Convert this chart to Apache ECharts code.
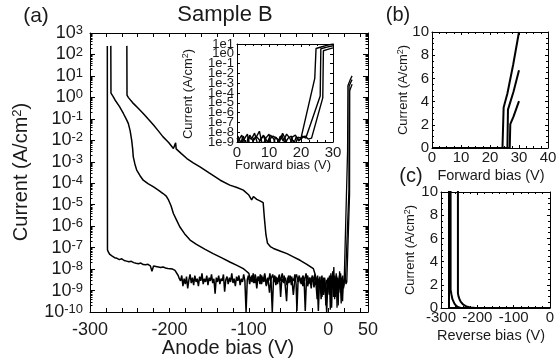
<!DOCTYPE html>
<html><head><meta charset="utf-8">
<script src="https://cdn.jsdelivr.net/npm/echarts@6.0.0/dist/echarts.min.js"></script>
<style>html,body{margin:0;padding:0;background:#fff;}#chart{width:557px;height:364px;}</style>
</head><body><div id="chart"></div>
<script>
// ---------- data: [bias (V), log10 of current density (A/cm^2)] ----------
const rev1 = [[-278.2,2.4],[-278.0,-7.1],[-277,-7.2],[-275,-7.32],[-272,-7.4],[-269,-7.47],[-266,-7.5],[-263,-7.56],[-260,-7.52],[-257,-7.6],[-254,-7.63],[-251,-7.66],[-248,-7.64],[-245,-7.7],[-242,-7.73],[-239,-7.75],[-236,-7.72],[-233,-7.79],[-230,-7.8],[-227,-7.78],[-224,-7.85],[-222,-8.1],[-220,-7.86],[-217,-7.88],[-214,-7.9],[-211,-7.93],[-208,-7.9],[-205,-7.95],[-202,-7.97],[-199,-7.98],[-196,-8.0],[-193,-8.06],[-191,-8.15],[-189,-8.3],[-187.5,-8.45],
[-186,-8.55],[-184.5,-8.3],[-183,-8.8],[-181.5,-8.45],[-180,-8.7],[-178.5,-8.35],[-177,-8.9],[-175.5,-8.5],[-174,-8.25],[-172.5,-8.65],[-171,-8.4],[-169.5,-8.75],[-168,-8.3],[-166.5,-8.6],[-165,-8.45],[-163.5,-8.8],[-162,-8.35],[-160.5,-8.55],[-159,-8.2],[-157.5,-8.7],[-156,-8.45],[-154.5,-8.6],[-153,-8.3],[-151.5,-8.75],[-150,-8.4],[-148.5,-8.55],[-147,-8.25],[-145.5,-8.65],[-144,-8.45],[-142.5,-9.15],[-141,-8.4],[-139.5,-8.6],[-138,-8.3],[-136.5,-8.7],[-135,-8.45],[-133.5,-8.55],[-132,-8.25],[-130.5,-9.05],[-129,-8.5],[-127.5,-8.35],[-126,-8.7],[-124.5,-8.4],[-123,-8.6],[-121.5,-8.2],[-120,-8.65],[-118.5,-8.45],[-117,-8.8],[-115.5,-8.35],[-114,-8.55],[-112.5,-8.3],[-111,-8.75],[-109.5,-8.45],[-108,-8.6],[-106.5,-8.25],[-105,-8.55],[-103.5,-10.0],[-102,-8.5],[-100.5,-8.3],[-99,-8.7],[-97.5,-8.4],[-96,-8.6],[-94.5,-8.2],[-93,-8.65],[-91.5,-8.45],[-90,-8.9],[-88.5,-8.35],[-87,-8.55],[-85.5,-8.25],[-84,-8.7],[-82.5,-8.4],[-81,-8.6],[-79.5,-8.3],[-78,-8.8],[-76.5,-8.45],[-75,-8.55],[-73.5,-8.2],[-72,-8.65],[-70.5,-10.0],[-69,-8.5],[-67.5,-8.3],[-66,-8.75],[-64.5,-8.4],[-63,-8.6],[-61.5,-8.25],[-60,-9.3],[-58.5,-8.45],[-57,-8.6],[-55.5,-8.3],[-54,-8.85],[-52.5,-9.5],[-51,-8.4],[-49.5,-8.65],[-48,-8.3],[-46.5,-8.75],[-45,-8.45],[-43.5,-8.55],[-42,-8.25],[-40.5,-8.7],[-39.5,-9.95],[-38,-8.5],[-36.5,-8.3],[-35,-8.65],[-33.5,-8.4],[-32,-8.8],[-30.5,-8.45],[-29,-9.95],[-27.5,-8.5],[-26,-8.3],[-24.5,-8.7],[-23,-8.4],[-21.5,-8.9],[-20,-8.35],[-18.5,-8.6],[-17,-8.25],[-15.5,-8.75],[-14,-8.45],[-12.5,-9.95],[-11,-8.5],[-9.5,-8.8],[-8,-8.3],[-6.5,-9.0],[-5,-8.45],[-3.5,-8.9],[-2,-10.0],[-0.5,-8.5],[0,-8.6]];

const rev2 = [[-273.8,2.4],[-273.6,0.2],[-271,0.05],[-268.5,-0.12],[-263,-0.42],[-258,-0.75],[-254.5,-1.0],[-251.8,-1.21],[-249.5,-1.55],[-247.5,-2.0],[-246.3,-2.4],[-245.5,-2.77],[-243.5,-3.1],[-241.2,-3.39],[-237,-3.65],[-233,-3.86],[-227,-4.02],[-220,-4.17],[-214,-4.32],[-208,-4.48],[-204,-4.6],[-201,-4.79],[-198,-5.05],[-195,-5.41],[-191,-5.72],[-187,-6.03],[-181,-6.35],[-174,-6.65],[-166,-6.85],[-155,-7.08],[-145,-7.28],[-134,-7.48],[-124,-7.67],[-115,-7.83],[-107,-7.98],[-103,-8.1],
[-100,-8.2],[-98,-8.5],[-96,-8.3],[-94,-8.65],[-92,-8.25],[-90,-8.6],[-88,-8.35],[-86,-8.7],[-84,-8.3],[-82,-8.55],[-80,-8.2],[-78,-8.75],[-76,-8.4],[-74,-9.1],[-72,-8.45],[-70,-8.25],[-68,-8.6],[-66,-8.35],[-64,-8.7],[-62,-8.3],[-60,-8.55],[-58,-8.2],[-56,-8.65],[-54,-8.4],[-52,-8.75],[-50,-8.3],[-48,-8.6],[-46,-8.35],[-44,-9.2],[-42,-8.45],[-40,-8.25],[-38,-8.6],[-36,-8.4],[-34,-8.7],[-32,-8.3],[-30,-8.55],[-28,-8.2],[-26,-8.8],[-24,-8.4],[-22,-8.6],[-20,-8.3],[-18,-8.85],[-16,-8.4],[-14,-9.4],[-12,-8.45],[-10,-8.7],[-8,-9.3],[-6,-8.4],[-4,-8.9],[-2,-8.5],[0,-8.8]];

const rev3 = [[-253.6,2.4],[-253.4,0.1],[-251.8,0.0],[-248.5,-0.15],[-245.5,-0.28],[-239,-0.52],[-233,-0.75],[-227,-1.0],[-220,-1.29],[-214,-1.56],[-208,-1.84],[-201,-2.1],[-195,-2.38],[-193,-2.4],[-192.2,-2.12],[-191.5,-2.4],[-185,-2.62],[-178,-2.85],[-170,-3.05],[-161.5,-3.24],[-150,-3.52],[-136,-3.86],[-124,-4.09],[-115,-4.2],[-107,-4.32],[-100,-4.55],[-96.5,-4.78],[-94.3,-4.62],[-90,-4.75],[-86,-4.82],[-82,-4.9],[-80.5,-5.6],[-78.5,-6.4],[-76.5,-6.8],[-73,-6.95],[-69,-7.04],[-60,-7.17],[-52,-7.28],[-44,-7.43],[-35.5,-7.59],[-27,-7.78],[-18.8,-7.98],[-16.5,-8.25],[-15,-8.7],[-13.5,-8.3],[-12,-8.8],[-10.5,-8.35],[-9,-9.4],[-7.5,-8.5],[-6,-9.2],[-4.5,-8.4],[-3,-9.7],[-1.5,-8.6],[0,-8.4]];

const fwdA = [[0,-8.6],[1,-9.2],[2,-8.4],[3,-9.6],[4,-8.3],[5,-8.9],[6,-8.5],[7,-7.9],[8,-9.4],[9,-8.6],[10,-8.2],[11,-9.8],[12,-8.5],[13,-8.8],[14,-8.3],[15,-9.1],[16,-8.6],[17,-8.4],[18,-9.5],[19,-8.5],[20,-8.6],[24.3,-2.5],[24.7,0.544],[26,0.672],[28,0.857],[30,1.0]];

const fwdB = [[0.5,-8.8],[1.5,-8.3],[2.5,-9.9],[3.5,-8.5],[4.5,-8.7],[5.5,-8.1],[6.5,-9.3],[7.5,-8.6],[8.5,-8.4],[9.5,-9.0],[10.5,-8.3],[11.5,-8.7],[12.5,-9.7],[13.5,-8.4],[14.5,-8.9],[15.5,-8.2],[16.5,-8.6],[17.5,-9.4],[18.5,-8.5],[19.5,-8.8],[20.5,-8.4],[21.5,-8.6],[26.0,-4.3],[26.2,0.52],[28.1,0.686],[30,0.826]];

const fwdC = [[0.25,-8.4],[1.25,-9.1],[2.25,-8.7],[3.25,-8.2],[4.25,-9.8],[5.25,-8.6],[6.25,-8.5],[7.25,-8.9],[8.25,-8.3],[9.25,-9.3],[10.25,-8.7],[11.25,-8.4],[12.25,-8.6],[13.25,-9.0],[14.25,-8.1],[15.25,-8.8],[16.25,-9.6],[17.25,-8.5],[18.25,-8.3],[19.25,-8.9],[20.25,-8.6],[21.25,-8.4],[22.25,-8.7],[23.3,-8.6],[26.8,-4.5],[27.0,0.312],[28.1,0.431],[30,0.607]];

// ---------- tick labels ----------
const mainXLabels = [-300, -200, -100, 0, 50];
const mainXTicks = [-300,-280,-260,-240,-220,-200,-180,-160,-140,-120,-100,-80,-60,-40,-20,0,20,40];
const insetYLabelsOdd = [-9, -7, -5, -3, -1, 1];
const insetYLabelsEven = [-8, -6, -4, -2, 0];

// log minor tick positions (axis decoration only)
const logMinor = [];
for (let d = -10; d < 3; d++) for (let k = 2; k <= 9; k++) logMinor.push(d + Math.log10(k));

const FONT = 'Liberation Sans, Arial, Helvetica, sans-serif';
const TXT = '#1a1a1a';
const BLK = {color: '#000', width: 1};

function toLin(arr) { return arr.map(p => [p[0], Math.pow(10, p[1])]); }

function ax(grid, pos, min, max, extra) {
  return Object.assign({
    gridIndex: grid, type: 'value', position: pos, min: min, max: max,
    axisLine: {show: true, onZero: false, lineStyle: BLK},
    axisTick: {show: true, inside: true, length: 4, lineStyle: BLK},
    axisLabel: {show: false},
    splitLine: {show: false}
  }, extra || {});
}
const tick = (len, extra) => Object.assign({show: true, inside: true, length: len, lineStyle: BLK}, extra || {});
const minor = (n) => ({show: true, splitNumber: n, length: 2, lineStyle: BLK});
const lbl = (size, margin, extra) => Object.assign({show: true, fontSize: size, fontFamily: FONT, color: TXT, margin: margin, showMinLabel: true, showMaxLabel: true, hideOverlap: false}, extra || {});
const insetFmt = v => '1e' + v;

const xAxes = [
  // 0,1 main
  ax(0, 'bottom', -300, 50, {axisTick: tick(4, {customValues: mainXTicks}),
    axisLabel: lbl(18, 9, {customValues: mainXLabels})}),
  ax(0, 'top', -300, 50, {axisTick: tick(4, {customValues: mainXTicks})}),
  // 2,3 inset
  ax(1, 'bottom', 0, 30, {interval: 10, minorTick: minor(4), axisTick: tick(3), axisLabel: lbl(15, 3)}),
  ax(1, 'top', 0, 30, {interval: 10, minorTick: minor(4), axisTick: tick(3)}),
  // 4,5 panel b
  ax(2, 'bottom', 0, 40, {interval: 10, minorTick: minor(4), axisTick: tick(3), axisLabel: lbl(15, 2)}),
  ax(2, 'top', 0, 40, {interval: 10, minorTick: minor(4), axisTick: tick(3)}),
  // 6,7 panel c
  ax(3, 'bottom', -300, 0, {interval: 100, minorTick: minor(5), axisTick: tick(3), axisLabel: lbl(15, 2)}),
  ax(3, 'top', -300, 0, {interval: 100, minorTick: minor(5), axisTick: tick(3)})
];

const yAxes = [
  // 0-3 main
  ax(0, 'left', -10, 3, {interval: 1, axisTick: tick(5),
    axisLabel: lbl(18, 7, {formatter: v => '{b|10}{s|' + v + '}',
      rich: {b: {fontSize: 18, fontFamily: FONT, color: TXT, lineHeight: 18, verticalAlign: 'bottom'},
             s: {fontSize: 13, fontFamily: FONT, color: TXT, lineHeight: 8, verticalAlign: 'top'}}})}),
  ax(0, 'left', -10, 3, {axisLine: {show: false, onZero: false}, axisTick: tick(2.5, {customValues: logMinor})}),
  ax(0, 'right', -10, 3, {interval: 1, axisTick: tick(5)}),
  ax(0, 'right', -10, 3, {axisLine: {show: false, onZero: false}, axisTick: tick(2.5, {customValues: logMinor})}),
  // 4,5 inset
  ax(1, 'left', -9, 1, {interval: 1, axisTick: tick(3), axisLabel: lbl(13, 3, {customValues: insetYLabelsOdd, formatter: insetFmt})}),
  ax(1, 'right', -9, 1, {interval: 1, axisTick: tick(3)}),
  // 6,7 panel b
  ax(2, 'left', 0, 10, {interval: 2, minorTick: minor(4), axisTick: tick(3), axisLabel: lbl(15, 3)}),
  ax(2, 'right', 0, 10, {interval: 2, minorTick: minor(4), axisTick: tick(3)}),
  // 8,9 panel c
  ax(3, 'left', 0, 10, {interval: 2, minorTick: minor(4), axisTick: tick(3), axisLabel: lbl(15, 3)}),
  ax(3, 'right', 0, 10, {interval: 2, minorTick: minor(4), axisTick: tick(3)}),
  // 10 inset: remaining labels
  ax(1, 'left', -9, 1, {axisLine: {show: false, onZero: false}, axisTick: {show: false},
    axisLabel: lbl(13, 3, {customValues: insetYLabelsEven, formatter: insetFmt})})
];

function line(data, xi, yi, w) {
  return {type: 'line', xAxisIndex: xi, yAxisIndex: yi, data: data, symbol: 'none', showSymbol: false,
    lineStyle: {color: '#000', width: w}, clip: true, silent: true, animation: false};
}

const series = [
  line(rev1, 0, 0, 1.5), line(rev2, 0, 0, 1.5), line(rev3, 0, 0, 1.5),
  line(fwdA, 0, 0, 1.3), line(fwdB, 0, 0, 1.3), line(fwdC, 0, 0, 1.3),
  line(fwdA, 2, 4, 1.4), line(fwdB, 2, 4, 1.4), line(fwdC, 2, 4, 1.4),
  line(toLin(fwdA), 4, 6, 2), line(toLin(fwdB), 4, 6, 2), line(toLin(fwdC), 4, 6, 2),
  line(toLin(rev1), 6, 8, 2), line(toLin(rev2), 6, 8, 2), line(toLin(rev3), 6, 8, 2)
];

function txt(x, y, text, size, rot, rich) {
  const el = {type: 'text', x: x, y: y, rotation: rot || 0, silent: true,
    style: {text: text, fontSize: size, fontFamily: FONT, fill: TXT, align: 'center', verticalAlign: 'middle'}};
  if (rich) el.style.rich = rich;
  return el;
}
const sup = s => ({s: {fontSize: s, fontFamily: FONT, fill: TXT, verticalAlign: 'top'}});

const chart = echarts.init(document.getElementById('chart'), null, {renderer: 'canvas'});
chart.setOption({
  animation: false,
  backgroundColor: '#fff',
  grid: [
    {left: 90, top: 33, width: 278, height: 279, outerBoundsMode: 'none'},
    {left: 237, top: 44, width: 96, height: 98, outerBoundsMode: 'none'},
    {left: 432, top: 32, width: 116, height: 116, outerBoundsMode: 'none'},
    {left: 441, top: 192, width: 109, height: 116, outerBoundsMode: 'none'}
  ],
  xAxis: xAxes,
  yAxis: yAxes,
  series: series,
  graphic: [
    txt(36, 16, '(a)', 21),
    txt(225, 15, 'Sample B', 22),
    txt(228, 348, 'Anode bias (V)', 20),
    txt(21, 172, 'Current (A/cm{s|2})', 20, Math.PI / 2, sup(13)),
    txt(283, 165, 'Forward bias (V)', 13),
    txt(188, 94, 'Current (A/cm{s|2})', 13, Math.PI / 2, sup(9)),
    txt(398, 15, '(b)', 20),
    txt(491, 176, 'Forward bias (V)', 14.5),
    txt(403, 90, 'Current (A/cm{s|2})', 13, Math.PI / 2, sup(9)),
    txt(411, 176, '(c)', 20),
    txt(491, 336, 'Reverse bias (V)', 14.5),
    txt(410, 250, 'Current (A/cm{s|2})', 13, Math.PI / 2, sup(9))
  ]
});
</script></body></html>
